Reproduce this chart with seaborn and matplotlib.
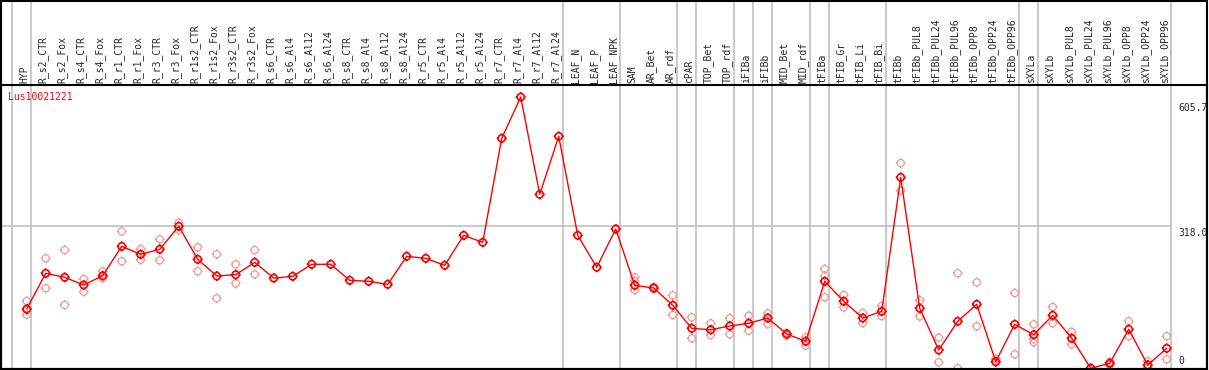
import numpy as np
import pandas as pd
import matplotlib
matplotlib.use("Agg")
import matplotlib.pyplot as plt
import matplotlib.transforms as mtransforms
from matplotlib.path import Path
from matplotlib.patches import Rectangle
import seaborn as sns

gene = "Lus10021221"

categories = [
    "HYP", "R_s2_CTR", "R_s2_Fox", "R_s4_CTR", "R_s4_Fox", "R_r1_CTR", "R_r1_Fox",
    "R_r3_CTR", "R_r3_Fox", "R_r1s2_CTR", "R_r1s2_Fox", "R_r3s2_CTR", "R_r3s2_Fox",
    "R_s6_CTR", "R_s6_Al4", "R_s6_Al12", "R_s6_Al24", "R_s8_CTR", "R_s8_Al4",
    "R_s8_Al12", "R_s8_Al24", "R_r5_CTR", "R_r5_Al4", "R_r5_Al12", "R_r5_Al24",
    "R_r7_CTR", "R_r7_Al4", "R_r7_Al12", "R_r7_Al24", "LEAF_N", "LEAF_P", "LEAF_NPK",
    "SAM", "AR_Bet", "AR_rdf", "cPAR", "TOP_Bet", "TOP_rdf", "iFIBa", "iFIBb",
    "MID_Bet", "MID_rdf", "tFIBa", "tFIB_Gr", "tFIB_Li", "tFIB_Bi", "tFIBb",
    "tFIBb_PUL8", "tFIBb_PUL24", "tFIBb_PUL96", "tFIBb_OPP8", "tFIBb_OPP24",
    "tFIBb_OPP96", "sXYLa", "sXYLb", "sXYLb_PUL8", "sXYLb_PUL24", "sXYLb_PUL96",
    "sXYLb_OPP8", "sXYLb_OPP24", "sXYLb_OPP96",
]

# mean expression per sample
means = [
    133.6, 213.1, 204.2, 187.1, 207.8, 273.2, 255.4, 266.6, 317.8, 244.3, 207.1,
    210.0, 237.6, 202.6, 206.4, 233.2, 233.2, 197.5, 195.3, 188.6, 251.0, 246.5,
    230.9, 297.7, 282.1, 513.7, 605.7, 389.0, 518.2, 297.7, 226.5, 311.8,
    186.4, 180.4, 141.9, 90.6, 87.5, 95.8, 101.8, 113.6, 77.9, 61.7, 195.3,
    150.8, 113.6, 128.5, 426.9, 135.2, 42.3, 106.2, 144.1, 16.3, 99.5, 76.4,
    119.6, 68.4, 1.6, 12.7, 88.4, 8.9, 46.1,
]

# individual replicates (empty where none are shown)
replicates = [
    [151.4, 131.4, 120.9], [246.5, 179.7], [265.0, 142.5], [200.4, 172.1],
    [217.6, 202.6], [306.6, 239.8], [267.2, 243.4], [288.8, 242.1], [325.8, 309.5],
    [271.0, 217.6], [255.4, 157.4], [233.2, 190.8], [265.0, 210.9],
    [], [], [], [], [], [], [], [], [], [], [], [], [], [], [], [], [], [], [],
    [204.2, 196.0, 175.9], [182.6, 178.2], [164.1, 120.3], [115.1, 68.4],
    [101.8, 75.7], [112.9, 77.3], [118.7, 85.3], [124.0, 100.2], [80.2, 74.2],
    [70.6, 51.9], [222.7, 207.8, 159.7], [164.8, 137.4], [124.7, 102.4],
    [140.3, 118.0], [458.7, 397.1], [153.0, 117.4], [69.7, 14.9], [213.1, 1.6],
    [193.1, 95.1], [22.3, 14.9], [169.2, 32.7], [99.5, 66.8, 59.5], [138.1, 101.8],
    [82.4, 55.0], [0.0, 3.0], [15.6, 8.9], [106.2, 72.8], [17.1, 3.8], [72.8, 21.6],
]

# last sample index of each group (separator lines)
group_ends = [-1, 0, 28, 31, 34, 35, 37, 38, 39, 41, 42, 45, 52, 53, 60]

y_ticks = [605.7, 318.0, 0]
y_tick_labels = ["605.7", "318.0", "0"]

x = np.arange(len(categories))
mean_df = pd.DataFrame({"pos": x, "value": means})
rep_df = pd.DataFrame(
    [(i, v) for i, reps in enumerate(replicates) for v in reps],
    columns=["pos", "value"],
)

# circle marker with four small ticks
circle = Path.unit_circle()
ticks = [Path([(0, 1), (0, 1.4)]), Path([(0, -1), (0, -1.4)]),
         Path([(1, 0), (1.4, 0)]), Path([(-1, 0), (-1.4, 0)])]
sun = Path.make_compound_path(circle, *ticks)

sns.set_style("white")
plt.rcParams["font.family"] = ["DejaVu Sans Mono", "DejaVu Sans"]

W, H = 1209, 370
fig = plt.figure(figsize=(W / 100, H / 100), dpi=100)
ax = fig.add_axes([1 / W, 1 / H, 1206 / W, 284 / H])

px = 0.449  # pixels per unit
ax.set_ylim(0, 284 / px)
ax.set_xlim(-1.353, 62.12)

# separators and grid
ax.hlines(318.0, -1.353, 60.2, color="#c0c0c0", lw=1.2, zorder=1)
for g in group_ends:
    ax.axvline(g + 0.2, ymin=0, ymax=369 / 284, color="#c0c0c0", lw=1.2,
               clip_on=False, zorder=1)

sns.scatterplot(data=rep_df, x="pos", y="value", marker=sun, s=52,
                facecolors="none", edgecolors="#f09a9a", linewidths=0.9,
                ax=ax, zorder=2)
sns.lineplot(data=mean_df, x="pos", y="value", color="red", lw=1.0,
             ax=ax, zorder=3)
sns.scatterplot(data=mean_df, x="pos", y="value", marker=sun, s=52,
                facecolors="none", edgecolors="red", linewidths=1.2,
                ax=ax, zorder=4)

# top sample labels
ax.xaxis.tick_top()
ax.set_xticks(x)
ax.set_xticklabels(categories, rotation=90, fontsize=7, va="bottom", ha="center")
ax.tick_params(axis="x", length=0, pad=1.5)
shift = mtransforms.ScaledTranslation(-2.5 / 100, 0, fig.dpi_scale_trans)
for lab in ax.get_xticklabels():
    lab.set_transform(lab.get_transform() + shift)
ax.set_yticks([])
ax.set_xlabel("")
ax.set_ylabel("")

# right-hand value labels, left aligned next to the last separator
ytrans = mtransforms.blended_transform_factory(ax.transAxes, ax.transData)
valign = ["top", "top", "bottom"]
offs = [-6, -2, 3]
for v, t, va, o in zip(y_ticks, y_tick_labels, valign, offs):
    ax.annotate(t, ((1178 - 1) / 1206, v), xycoords=ytrans, xytext=(0, o),
                textcoords="offset pixels", ha="left", va=va, fontsize=7)

ax.text(-1.0, 605.7, gene, color="red", fontsize=7, ha="left", va="center")

for sp in ax.spines.values():
    sp.set_color("black")
    sp.set_linewidth(1.5)

# outer frame of the whole picture
fig.patches.append(Rectangle((1 / W, 1 / H), 1206 / W, 368.5 / H, fill=False,
                             ec="black", lw=1.5, transform=fig.transFigure))

fig.savefig("out.png", dpi=100)
